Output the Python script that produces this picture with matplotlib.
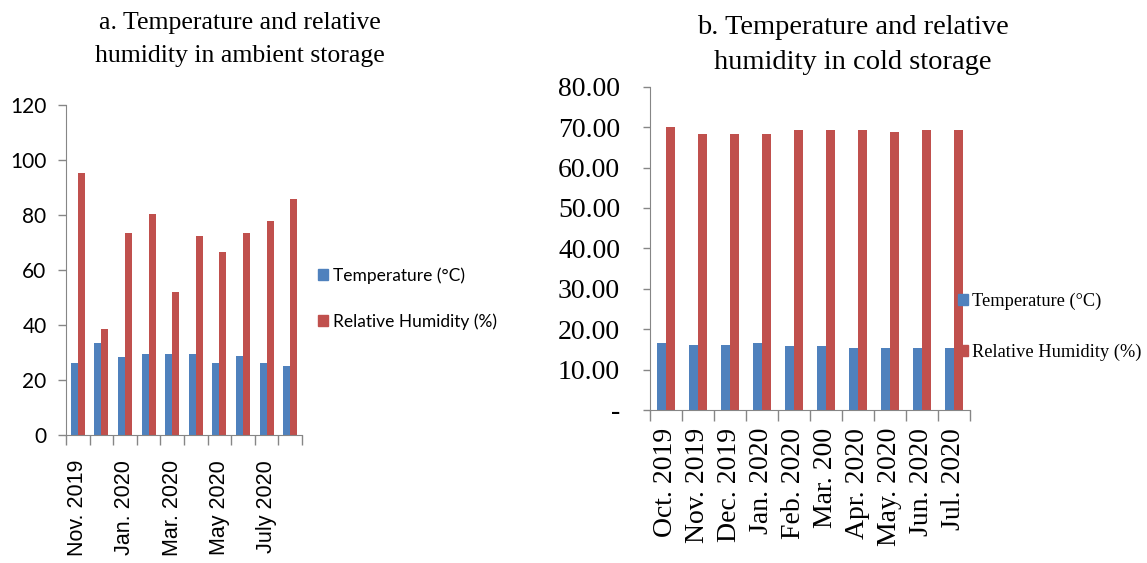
import matplotlib
matplotlib.use("Agg")
import matplotlib.pyplot as plt
import numpy as np
from matplotlib.patches import Patch

# ---- data ----
months_a = ["Nov. 2019", "Dec. 2019", "Jan. 2020", "Feb. 2020", "Mar. 2020",
            "Apr. 2020", "May 2020", "June 2020", "July 2020", "Aug. 2020"]
temp_a = [26.3, 33.6, 28.2, 29.3, 29.3, 29.3, 26.3, 28.7, 26.3, 25.1]
rh_a = [95.2, 38.4, 73.6, 80.2, 52.1, 72.5, 66.4, 73.6, 77.8, 85.7]
yticks_a = [0, 20, 40, 60, 80, 100, 120]

months_b = ["Oct. 2019", "Nov. 2019", "Dec. 2019", "Jan. 2020", "Feb. 2020",
            "Mar. 200", "Apr. 2020", "May. 2020", "Jun. 2020", "Jul. 2020"]
temp_b = [16.7, 16.2, 16.2, 16.7, 15.8, 15.8, 15.3, 15.3, 15.3, 15.3]
rh_b = [70.1, 68.3, 68.3, 68.3, 69.2, 69.2, 69.2, 68.7, 69.2, 69.2]
yticks_b = [0, 10, 20, 30, 40, 50, 60, 70, 80]
ytick_labels_b = ["-", "10.00", "20.00", "30.00", "40.00", "50.00", "60.00", "70.00", "80.00"]

series_names = ["Temperature (°C)", "Relative Humidity (%)"]
BLUE = "#4F81BD"
RED = "#C0504D"
GRAY = "#868686"

W, H = 1147, 563
fig = plt.figure(figsize=(W / 100, H / 100), dpi=100)

# ---- panel a ----
ax1 = fig.add_axes([66 / W, 1 - 435 / H, 236 / W, 330 / H])
x = np.arange(len(months_a))
bw = 0.3
ax1.bar(x - bw / 2, temp_a, bw, color=BLUE, label=series_names[0])
ax1.bar(x + bw / 2, rh_a, bw, color=RED, label=series_names[1])
ax1.set_xlim(-0.5, len(months_a) - 0.5)
ax1.set_ylim(0, 120)
ax1.set_yticks(yticks_a)
ax1.set_yticklabels([str(v) for v in yticks_a], fontsize=15, family="Lato")
ax1.set_xticks(x[::2])
ax1.set_xticklabels(months_a[::2], rotation=90, fontsize=15.5,
                    family="Liberation Sans", va="top")
ax1.set_xticks(np.arange(-0.5, len(months_a)), minor=True)
ax1.tick_params(axis="x", which="major", length=0, pad=18)
ax1.tick_params(axis="x", which="minor", length=7, color=GRAY, width=1)
ax1.tick_params(axis="y", length=6, color=GRAY, width=1, pad=8)
for s in ["top", "right"]:
    ax1.spines[s].set_visible(False)
for s in ["left", "bottom"]:
    ax1.spines[s].set_color(GRAY)
fig.text(240 / W, 1 - 39.5 / H, "a. Temperature and relative\nhumidity in ambient storage",
         ha="center", va="center", fontsize=18.5, family="Liberation Serif",
         linespacing=1.62)
fig.legend(handles=[Patch(color=BLUE), Patch(color=RED)], labels=series_names,
           loc="center left", bbox_to_anchor=(318 / W, 1 - 298.5 / H),
           frameon=False, prop={"family": "Lato", "size": 12.5},
           borderpad=0, borderaxespad=0,
           handlelength=0.55, handleheight=0.55, handletextpad=0.32,
           labelspacing=1.7)

# ---- panel b ----
ax2 = fig.add_axes([650 / W, 1 - 410 / H, 320 / W, 323.3 / H])
x2 = np.arange(len(months_b))
bw2 = 0.27
ax2.bar(x2 - bw2 / 2, temp_b, bw2, color=BLUE)
ax2.bar(x2 + bw2 / 2, rh_b, bw2, color=RED)
ax2.set_xlim(-0.5, len(months_b) - 0.5)
ax2.set_ylim(0, 80)
ax2.set_yticks(yticks_b)
ax2.set_yticklabels(ytick_labels_b, fontsize=20, family="Liberation Serif")
ax2.set_xticks(x2)
ax2.set_xticklabels(months_b, rotation=90, fontsize=20,
                    family="Liberation Serif", va="top")
ax2.set_xticks(np.arange(-0.5, len(months_b)), minor=True)
ax2.tick_params(axis="x", which="major", length=0, pad=13)
ax2.tick_params(axis="x", which="minor", length=8, color=GRAY, width=1)
ax2.tick_params(axis="y", length=5, color=GRAY, width=1, pad=16.5)
for s in ["top", "right"]:
    ax2.spines[s].set_visible(False)
for s in ["left", "bottom"]:
    ax2.spines[s].set_color(GRAY)
fig.text(853 / W, 1 - 45 / H, "b. Temperature and relative\nhumidity in cold storage",
         ha="center", va="center", fontsize=20.5, family="Liberation Serif",
         linespacing=1.5)
fig.legend(handles=[Patch(color=BLUE), Patch(color=RED)], labels=series_names,
           loc="center left", bbox_to_anchor=(958 / W, 1 - 326.5 / H),
           frameon=False, prop={"family": "Liberation Serif", "size": 13.2},
           borderpad=0, borderaxespad=0,
           handlelength=0.55, handleheight=0.55, handletextpad=0.2,
           labelspacing=1.83)

fig.savefig("out.png", dpi=100)
